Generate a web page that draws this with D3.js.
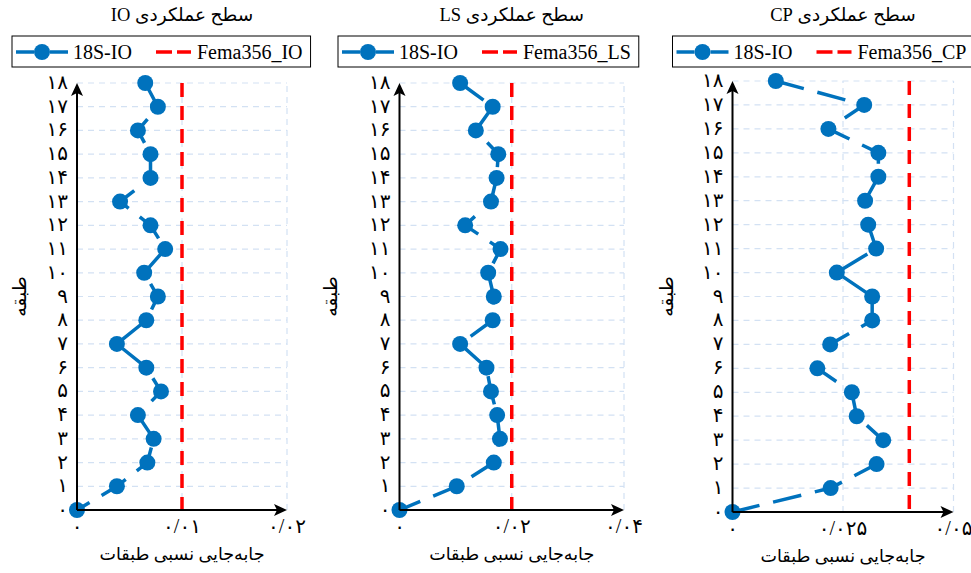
<!DOCTYPE html>
<html>
<head>
<meta charset="utf-8">
<script src="https://cdn.jsdelivr.net/npm/d3@7"></script>
<style>
  body { margin: 0; background: #fff; }
  text { font-family: "Liberation Serif", "DejaVu Sans", serif; fill: #000; }
</style>
</head>
<body>
<div id="chart"></div>
<script>
// floors (categories)
const floors = [0, 1, 2, 3, 4, 5, 6, 7, 8, 9, 10, 11, 12, 13, 14, 15, 16, 17, 18];
const floorLabels = ["۰", "۱", "۲", "۳", "۴", "۵", "۶", "۷", "۸", "۹", "۱۰", "۱۱", "۱۲", "۱۳", "۱۴", "۱۵", "۱۶", "۱۷", "۱۸"];

// story drift ratio, floor 0..18
const driftIO = [0, 0.0038, 0.0067, 0.0073, 0.0058, 0.0080, 0.0066, 0.0038, 0.0066, 0.0077,
    0.0064, 0.0084, 0.0070, 0.0041, 0.0070, 0.0070, 0.0058, 0.0077, 0.0065];
const driftLS = [0, 0.0102, 0.0168, 0.0179, 0.0174, 0.0163, 0.0155, 0.0108, 0.0166, 0.0168,
    0.0158, 0.0180, 0.0117, 0.0163, 0.0173, 0.0176, 0.0136, 0.0166, 0.0108];
const driftCP = [0, 0.0222, 0.0326, 0.0341, 0.0281, 0.0270, 0.0192, 0.0221, 0.0316, 0.0316,
    0.0236, 0.0325, 0.0307, 0.0300, 0.0330, 0.0330, 0.0217, 0.0298, 0.0098];

const femaLimits = [0.01, 0.02, 0.04];
const xMaxes = [0.02, 0.04, 0.05];
const xTicks = [[0, 0.01, 0.02], [0, 0.02, 0.04], [0, 0.025, 0.05]];
const xTickLabels = [["۰", "۰/۰۱", "۰/۰۲"], ["۰", "۰/۰۲", "۰/۰۴"], ["۰", "۰/۰۲۵", "۰/۰۵"]];
const titles = ["سطح عملکردی IO", "سطح عملکردی LS", "سطح عملکردی CP"];
const seriesName = "18S-IO";
const femaNames = ["Fema356_IO", "Fema356_LS", "Fema356_CP"];
const yLabel = "طبقه";
const xLabel = "جابه‌جایی نسبی طبقات";

const series = [driftIO, driftLS, driftCP];

const blue = "#0072BD", red = "#FF0000", grid = "#d3e1f3";

// plot frames (pixels)
const frames = [
    { left: 77, right: 287, top: 83, bottom: 510, box: 12, ylab: 22 },
    { left: 399.5, right: 624, top: 83, bottom: 510, box: 338, ylab: 333 },
    { left: 732.5, right: 953.5, top: 81, bottom: 512, box: 672.5, ylab: 669 }
];

const svg = d3.select("#chart")
    .append("svg")
    .attr("width", 971)
    .attr("height", 573);

frames.forEach((f, p) => {
    const g = svg.append("g");

    const x = d3.scaleLinear().domain([0, xMaxes[p]]).range([f.left, f.right]);
    const y = d3.scaleLinear().domain([0, 18]).range([f.bottom, f.top]);

    /* grid */
    g.selectAll(".hgrid")
        .data(floors.filter(d => d > 0))
        .enter()
        .append("line")
        .attr("x1", x(0)).attr("x2", x(xMaxes[p]))
        .attr("y1", d => y(d)).attr("y2", d => y(d))
        .attr("stroke", grid).attr("stroke-width", 1.2)
        .attr("stroke-dasharray", "6,5");

    g.selectAll(".vgrid")
        .data(xTicks[p].filter(d => d > 0))
        .enter()
        .append("line")
        .attr("x1", d => x(d)).attr("x2", d => x(d))
        .attr("y1", y(0)).attr("y2", y(18))
        .attr("stroke", grid).attr("stroke-width", 1.2)
        .attr("stroke-dasharray", "6,5");

    /* fema limit */
    g.append("line")
        .attr("x1", x(femaLimits[p])).attr("x2", x(femaLimits[p]))
        .attr("y1", y(18)).attr("y2", y(0))
        .attr("stroke", red).attr("stroke-width", 3.5)
        .attr("stroke-dasharray", "14,9");

    /* drift line */
    const pts = floors.map((fl, i) => [x(series[p][i]), y(fl)]);
    g.append("path")
        .attr("d", d3.line()(pts.slice().reverse()))
        .attr("fill", "none")
        .attr("stroke", blue).attr("stroke-width", 3.5)
        .attr("stroke-dasharray", "29,14");

    g.selectAll(".dot")
        .data(pts)
        .enter()
        .append("circle")
        .attr("cx", d => d[0]).attr("cy", d => d[1])
        .attr("r", 8)
        .attr("fill", blue);

    /* axes with arrows */
    g.append("line")
        .attr("x1", x(0)).attr("x2", x(xMaxes[p]) - 6)
        .attr("y1", y(0)).attr("y2", y(0))
        .attr("stroke", "#000").attr("stroke-width", 2);
    g.append("line")
        .attr("x1", x(0)).attr("x2", x(0))
        .attr("y1", y(0)).attr("y2", y(18) + 6)
        .attr("stroke", "#000").attr("stroke-width", 2);
    const ax = x(xMaxes[p]), ay = y(0);
    g.append("path")
        .attr("d", `M${ax},${ay} L${ax - 13},${ay - 6} L${ax - 10},${ay} L${ax - 13},${ay + 6} Z`)
        .attr("fill", "#000");
    const tx = x(0), ty = y(18);
    g.append("path")
        .attr("d", `M${tx},${ty} L${tx - 6},${ty + 13} L${tx},${ty + 10} L${tx + 6},${ty + 13} Z`)
        .attr("fill", "#000");

    /* tick labels */
    g.selectAll(".ytick")
        .data(floors)
        .enter()
        .append("text")
        .attr("x", x(0) - 9)
        .attr("y", d => y(d) + 6)
        .attr("text-anchor", "end")
        .attr("font-size", 20)
        .text(d => floorLabels[d]);

    g.selectAll(".xtick")
        .data(xTicks[p])
        .enter()
        .append("text")
        .attr("x", d => x(d))
        .attr("y", y(0) + 23)
        .attr("text-anchor", "middle")
        .attr("font-size", 20)
        .text((d, i) => xTickLabels[p][i]);

    /* labels */
    g.append("text")
        .attr("x", (f.left + f.right) / 2)
        .attr("y", y(0) + 50)
        .attr("text-anchor", "middle")
        .attr("direction", "rtl")
        .attr("font-size", 17.5)
        .text(xLabel);

    g.append("text")
        .attr("transform", `translate(${f.ylab}, ${(f.top + f.bottom) / 2}) rotate(-90)`)
        .attr("text-anchor", "middle")
        .attr("dominant-baseline", "middle")
        .attr("direction", "rtl")
        .attr("font-size", 19)
        .text(yLabel);

    g.append("text")
        .attr("x", (f.left + f.right) / 2)
        .attr("y", 21)
        .attr("text-anchor", "middle")
        .attr("direction", "rtl")
        .attr("font-size", 18.5)
        .text(titles[p]);

    /* legend */
    const lg = g.append("g").attr("transform", `translate(${f.box}, 36)`);
    const rect = lg.append("rect")
        .attr("x", 0).attr("y", 0).attr("height", 31)
        .attr("fill", "#fff").attr("stroke", "#000").attr("stroke-width", 1);
    lg.append("line").attr("x1", 4).attr("x2", 22).attr("y1", 16).attr("y2", 16)
        .attr("stroke", blue).attr("stroke-width", 3.5);
    lg.append("line").attr("x1", 38).attr("x2", 56).attr("y1", 16).attr("y2", 16)
        .attr("stroke", blue).attr("stroke-width", 3.5);
    lg.append("circle").attr("cx", 30).attr("cy", 16).attr("r", 8).attr("fill", blue);
    lg.append("text").attr("x", 61).attr("y", 23).attr("font-size", 20).text(seriesName);
    lg.append("line").attr("x1", 144).attr("x2", 179).attr("y1", 16).attr("y2", 16)
        .attr("stroke", red).attr("stroke-width", 3.5).attr("stroke-dasharray", "16,5");
    const ft = lg.append("text").attr("x", 185).attr("y", 23).attr("font-size", 20).text(femaNames[p]);
    rect.attr("width", 185 + ft.node().getComputedTextLength() + 8);
});
</script>
</body>
</html>
